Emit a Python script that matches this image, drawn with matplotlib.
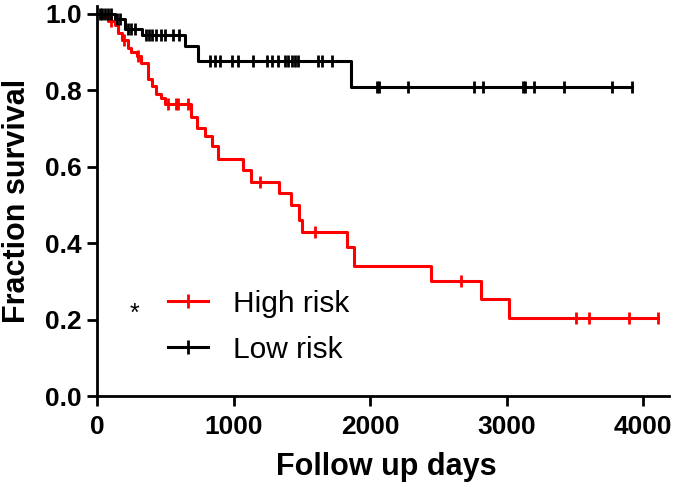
import numpy as np
import matplotlib
matplotlib.use('Agg')
from matplotlib import pyplot as plt

plt.rcParams['font.family'] = ['Liberation Sans', 'DejaVu Sans']

# High risk group: step times (days) and survival after each step
high_t = [0, 30, 80, 130, 155, 180, 230, 250, 290, 325, 375, 400, 430, 470, 500,
          685, 730, 790, 840, 890, 1070, 1130, 1330, 1420, 1480, 1500, 1830, 1880,
          2450, 2810, 3020, 4110]
high_s = [1.0, 0.99, 0.98, 0.97, 0.95, 0.93, 0.91, 0.90, 0.89, 0.87, 0.83, 0.81,
          0.79, 0.78, 0.765, 0.73, 0.70, 0.68, 0.655, 0.62, 0.59, 0.56, 0.53,
          0.50, 0.46, 0.43, 0.39, 0.34, 0.30, 0.255, 0.205, 0.205]
high_cens = [100, 200, 300, 520, 580, 595, 668, 1196, 1600, 2663, 3507, 3602, 3896, 4110]

# Low risk group
low_t = [0, 130, 205, 330, 645, 740, 1860, 3916]
low_s = [1.0, 0.985, 0.96, 0.945, 0.915, 0.877, 0.808, 0.808]
low_cens = [20, 40, 60, 80, 100, 150, 170, 230, 250, 280, 360, 380, 400, 430, 470,
            500, 560, 600, 828, 864, 901, 989, 1033, 1143, 1245, 1282, 1326, 1377,
            1400, 1430, 1450, 1472, 1619, 1648, 1722, 2054, 2069, 2281, 2764, 2830,
            3117, 3132, 3198, 3418, 3769, 3916]


def surv_at(times, surv, c):
    # value of the step curve at censor time c
    idx = np.searchsorted(times, c, side='right') - 1
    return np.array(surv)[idx]


fig = plt.figure(figsize=(6.75, 4.88), dpi=100)
ax = fig.add_axes([97/675, 1-396/488, 572/675, 390/488])

for t, s, cens, col, lab in [(high_t, high_s, high_cens, 'red', 'High risk'),
                             (low_t, low_s, low_cens, 'black', 'Low risk')]:
    ax.step(t, s, where='post', color=col, lw=2.2)
    ax.plot(cens, surv_at(t, s, cens), ls='none', marker='|', ms=8, mew=2, color=col)
    ax.plot([], [], color=col, lw=2.2, marker='|', ms=10, mew=2, label=lab)

ax.set_xlim(0, 4190)
ax.set_ylim(0, 1.02)
ax.set_xticks([0, 1000, 2000, 3000, 4000])
ax.set_yticks([0.0, 0.2, 0.4, 0.6, 0.8, 1.0])
ax.set_yticklabels(['0.0', '0.2', '0.4', '0.6', '0.8', '1.0'])
ax.tick_params(direction='out', length=7, width=2, labelsize=19)
ax.tick_params(axis='x', pad=7)
ax.tick_params(axis='y', pad=4)
for lbl in ax.get_xticklabels() + ax.get_yticklabels():
    lbl.set_fontweight('bold')
ax.spines['top'].set_visible(False)
ax.spines['right'].set_visible(False)
ax.spines['left'].set_linewidth(2)
ax.spines['bottom'].set_linewidth(2)
ax.set_xlabel('Follow up days', fontsize=22, fontweight='bold')
ax.set_ylabel('Fraction survival', fontsize=22, fontweight='bold')
ax.xaxis.set_label_coords(0.505, -0.143)
ax.yaxis.set_label_coords(-0.114, 0.5)

ax.legend(loc='upper left', bbox_to_anchor=(0.077, 0.341), frameon=False, fontsize=21.5,
          handlelength=1.34, handletextpad=0.84, labelspacing=0.6)
ax.text(0.066, 0.21, '*', transform=ax.transAxes, fontsize=18, ha='center', va='center')

fig.savefig('out.png', dpi=100)
